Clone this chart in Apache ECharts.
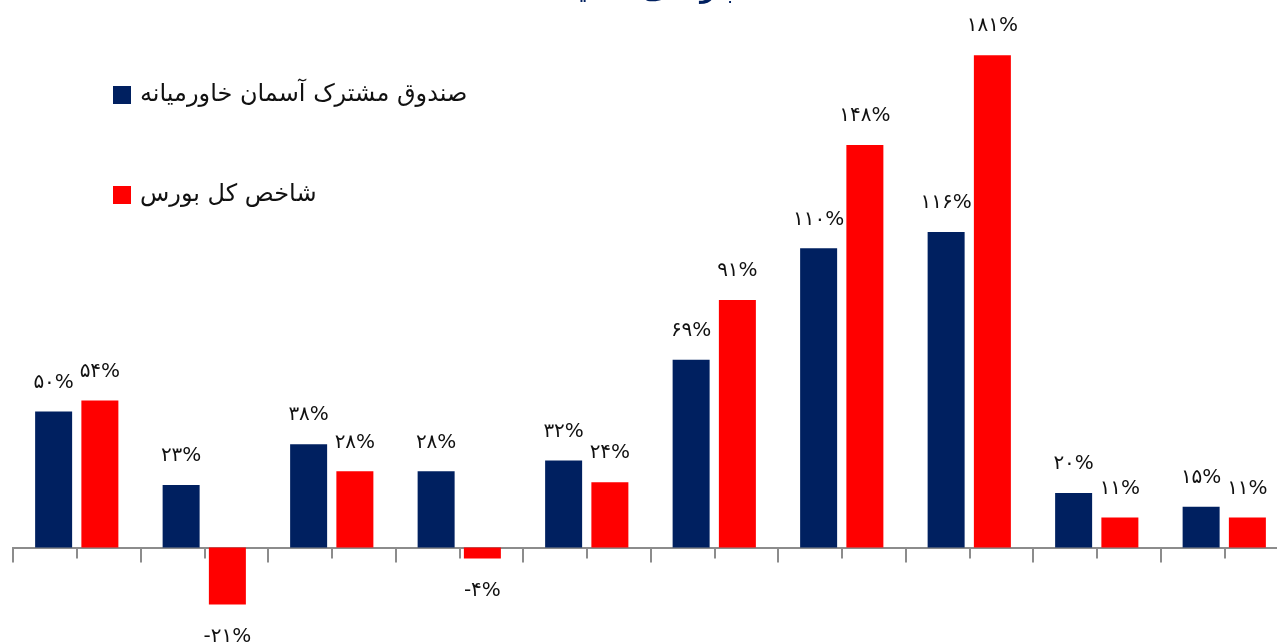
<!DOCTYPE html>
<html>
<head>
<meta charset="utf-8">
<script src="https://cdn.jsdelivr.net/npm/echarts@6/dist/echarts.min.js"></script>
<style>
html,body{margin:0;padding:0;background:#fff;}
#chart{width:1277px;height:642px;}
</style>
</head>
<body>
<div id="chart"></div>
<script>
const titleText = 'بازدهی سالیانه';
const seriesNames = ['صندوق مشترک آسمان خاورمیانه', 'شاخص کل بورس'];
const categories = ['۱','۲','۳','۴','۵','۶','۷','۸','۹','۱۰'];
const fundValues = [50, 23, 38, 28, 32, 69, 110, 116, 20, 15];
const indexValues = [54, -21, 28, -4, 24, 91, 148, 181, 11, 11];
const halfTicks = ['','','','','','','','','','','','','','','','','','','',''];

const faDigits = '۰۱۲۳۴۵۶۷۸۹';
function toFa(v){
  const s = String(Math.abs(v)).replace(/[0-9]/g, d => faDigits[+d]);
  return (v < 0 ? '-' : '') + s + '%';
}
function buildData(arr){
  return arr.map(v => v < 0 ? {value: v, label: {position: 'bottom', distance: 22}} : {value: v});
}

const chart = echarts.init(document.getElementById('chart'), null, {renderer: 'canvas'});
const labelStyle = {
  show: true,
  position: 'top',
  distance: 19,
  fontFamily: 'DejaVu Sans',
  fontSize: 20,
  color: '#111',
  formatter: p => toFa(p.value)
};
const gridBox = {left: 13, width: 1275, top: 3.5, bottom: 12.9, containLabel: false, outerBoundsMode: 'none'};
chart.setOption({
  animation: false,
  backgroundColor: '#fff',
  title: {
    text: titleText,
    left: 'center',
    top: -27,
    textStyle: {fontFamily: 'DejaVu Sans', fontSize: 26, fontWeight: 'bold', color: '#002060'}
  },
  legend: {
    orient: 'vertical',
    left: 113,
    top: 83,
    padding: 0,
    itemWidth: 18,
    itemHeight: 18,
    itemGap: 76,
    icon: 'rect',
    textStyle: {fontFamily: 'DejaVu Sans', fontSize: 24, color: '#111', padding: [0,0,0,4]},
    data: seriesNames
  },
  grid: [Object.assign({}, gridBox), Object.assign({}, gridBox)],
  xAxis: [
    {
      type: 'category',
      gridIndex: 0,
      data: categories,
      axisLine: {show: true, onZero: true, lineStyle: {color: '#8c8c8c', width: 2}},
      axisTick: {show: true, length: 15, lineStyle: {color: '#8c8c8c', width: 2}},
      axisLabel: {show: false}
    },
    {
      type: 'category',
      gridIndex: 1,
      data: halfTicks,
      axisLine: {show: true, onZero: true, lineStyle: {color: '#8c8c8c', width: 2}},
      axisTick: {show: true, length: 11, lineStyle: {color: '#8c8c8c', width: 2}},
      axisLabel: {show: false}
    }
  ],
  yAxis: [
    {type: 'value', gridIndex: 0, min: -30, max: 200, show: false, splitLine: {show: false}},
    {type: 'value', gridIndex: 1, min: -30, max: 200, show: false, splitLine: {show: false}}
  ],
  series: [
    {
      name: seriesNames[0],
      type: 'bar',
      xAxisIndex: 0,
      yAxisIndex: 0,
      data: buildData(fundValues),
      barWidth: 37,
      barGap: '25%',
      itemStyle: {color: '#002060'},
      label: labelStyle
    },
    {
      name: seriesNames[1],
      type: 'bar',
      xAxisIndex: 0,
      yAxisIndex: 0,
      data: buildData(indexValues),
      barWidth: 37,
      barGap: '25%',
      itemStyle: {color: '#ff0000'},
      label: labelStyle
    }
  ]
});
</script>
</body>
</html>
